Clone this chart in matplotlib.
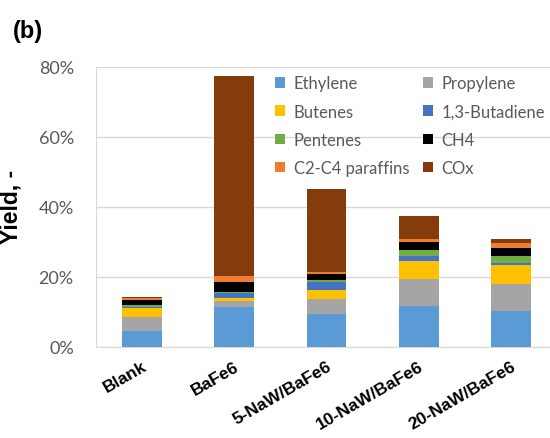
import numpy as np
import matplotlib.pyplot as plt
from matplotlib.ticker import FuncFormatter

# catalysts on the x axis
catalysts = ['Blank', 'BaFe6', '5-NaW/BaFe6', '10-NaW/BaFe6', '20-NaW/BaFe6']

# product yields, %
ethylene = [4.7, 11.5, 9.4, 11.6, 10.3]
propylene = [4.0, 1.7, 4.3, 7.8, 7.8]
butenes = [2.4, 0.7, 2.6, 5.3, 5.3]
butadiene = [0.3, 1.4, 2.2, 1.2, 0.6]
pentenes = [0.6, 0.5, 0.6, 1.9, 1.9]
ch4 = [1.5, 2.9, 1.8, 2.3, 2.3]
paraffins = [0.6, 1.5, 0.6, 0.9, 1.5]
cox = [0.3, 57.3, 23.6, 6.3, 1.1]

products = ['Ethylene', 'Propylene', 'Butenes', '1,3-Butadiene',
            'Pentenes', 'CH4', 'C2-C4 paraffins', 'COx']
series = [ethylene, propylene, butenes, butadiene, pentenes, ch4, paraffins, cox]
colors = ['#5B9BD5', '#A5A5A5', '#FFC000', '#4472C4',
          '#70AD47', '#000000', '#ED7D31', '#843C0C']

fig = plt.figure(figsize=(5.5, 4.39), dpi=100)
ax = fig.add_axes([96 / 550, 1 - 348 / 439, 461 / 550, 280 / 439])

x = np.arange(len(catalysts))
bottom = np.zeros(len(catalysts))
bars = []
for name, vals, c in zip(products, series, colors):
    v = np.array(vals) / 100
    bars.append(ax.bar(x, v, width=0.43, bottom=bottom, color=c, label=name, zorder=3))
    bottom += v

ax.set_xlim(-0.5, len(catalysts) - 0.5)
ax.set_ylim(0, 0.8)
ax.set_yticks(np.arange(0, 0.81, 0.2))
ax.yaxis.set_major_formatter(FuncFormatter(lambda v, p: f'{v * 100:.0f}%'))
ax.grid(axis='y', color='#d9d9d9', linewidth=1, zorder=0)
ax.tick_params(length=0)
ax.tick_params(axis='y', labelsize=13, labelcolor='#595959', pad=16)
for lab in ax.get_yticklabels():
    lab.set_family('Lato')

ax.set_xticks(x)
ax.set_xticklabels(catalysts, rotation=30, ha='right', rotation_mode='anchor',
                   fontweight='bold', fontsize=12.5, family='Liberation Sans')
ax.tick_params(axis='x', pad=8)

for s in ['top', 'right']:
    ax.spines[s].set_visible(False)
for s in ['left', 'bottom']:
    ax.spines[s].set_color('#d9d9d9')

fig.text(11 / 550, 1 - 207 / 439, 'Yield, -', rotation=90, ha='center', va='center',
         fontsize=16.5, fontweight='bold', family='Liberation Sans')

fig.text(13 / 550, 1 - 38 / 439, '(b)', fontsize=17, fontweight='bold',
         family='Liberation Sans', va='baseline')

# legend reads row by row: reorder for matplotlib's column-first fill
order = [0, 2, 4, 6, 1, 3, 5, 7]
ax.legend([bars[i] for i in order], [products[i] for i in order],
          ncol=2, loc='upper left', bbox_to_anchor=(267 / 550, 1 - 68 / 439),
          bbox_transform=fig.transFigure, frameon=False, labelcolor='#595959',
          prop={'family': 'Lato', 'size': 12}, handlelength=0.6, handleheight=0.6,
          handletextpad=0.5, columnspacing=0.85, labelspacing=0.73, borderpad=0)

fig.savefig('out.png', dpi=100)
